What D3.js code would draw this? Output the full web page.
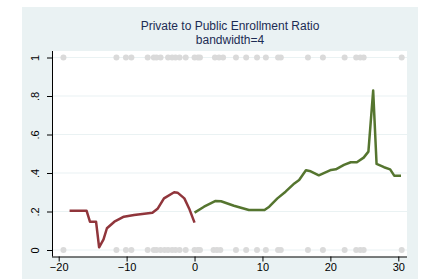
<!DOCTYPE html>
<html>
<head>
<meta charset="utf-8">
<script src="https://cdn.jsdelivr.net/npm/d3@7"></script>
<style>
  body { margin: 0; background: #fff; }
  svg { display: block; font-family: "Liberation Sans", Arial, sans-serif; }
</style>
</head>
<body>
<div id="chart"><svg width="430" height="279"></svg></div>
<script>
var titleLines = ['Private to Public Enrollment Ratio', 'bandwidth=4'];
var xTicks = [-20, -10, 0, 10, 20, 30];
var yTicks = [0, 0.2, 0.4, 0.6, 0.8, 1];
var yTickLabels = ['0', '.2', '.4', '.6', '.8', '1'];

// raw observations (binary outcome) drawn as grey dots
var dotsTop = [-19.3, -11.5, -10.1, -9.3, -6.9, -6.0, -5.6, -5.0, -3.9, -3.3, -2.8, -2.2, -1.3,
  0.0, 0.5, 0.8, 3.0, 3.6, 4.2, 6.1, 7.6, 9.2, 10.5, 12.3, 12.7, 16.7, 18.9, 22.1, 23.8, 24.4, 24.9, 30.5];
var dotsBottom = [-19.3, -11.5, -10.1, -9.3, -6.9, -6.0, -5.6, -5.0, -4.4, -3.9, -3.3, -2.8, -2.2, -1.3,
  0.0, 0.5, 0.8, 2.8, 3.3, 3.8, 6.1, 7.6, 9.2, 10.5, 12.3, 12.7, 16.7, 18.9, 22.1, 23.8, 24.4, 24.9, 30.5];

// local fit left of cutoff
var leftX = [-18.4, -15.9, -15.4, -14.5, -14.05, -13.4, -12.9, -11.8, -10.4, -8.9, -6.2, -5.4, -4.5, -3.0, -2.5, -1.5, -0.8, 0.0];
var leftY = [0.204, 0.204, 0.147, 0.147, 0.014, 0.055, 0.113, 0.147, 0.173, 0.182, 0.194, 0.216, 0.268, 0.300, 0.298, 0.268, 0.216, 0.142];

// local fit right of cutoff
var rightX = [0.0, 1.4, 3.1, 3.9, 5.8, 8.0, 10.3, 11.0, 12.2, 13.4, 14.7, 15.4, 16.4, 17.1, 18.3, 20.1, 20.8,
  22.0, 23.0, 23.9, 24.9, 25.6, 26.3, 26.8, 27.9, 28.8, 29.4, 30.4];
var rightY = [0.194, 0.225, 0.255, 0.253, 0.230, 0.208, 0.208, 0.225, 0.268, 0.303, 0.346, 0.364, 0.414, 0.409, 0.388,
  0.416, 0.419, 0.442, 0.456, 0.456, 0.480, 0.511, 0.828, 0.447, 0.430, 0.419, 0.386, 0.386];

var svg = d3.select('#chart svg');

var outer = { x: 22, y: 7, w: 396, h: 272 };
var plot = { left: 52, right: 407, top: 51, bottom: 256.5 };

var x = d3.scaleLinear().domain([-20, 30]).range([58.7, 398.3]);
var y = d3.scaleLinear().domain([0, 1]).range([250, 57.5]);

svg.append('rect')
  .attr('x', outer.x).attr('y', outer.y)
  .attr('width', outer.w).attr('height', outer.h)
  .attr('fill', '#eaf2f3')
;

svg.append('rect')
  .attr('x', plot.left).attr('y', plot.top)
  .attr('width', plot.right - plot.left).attr('height', plot.bottom - plot.top)
  .attr('fill', '#ffffff')
;

// gridlines
svg.append('g')
  .selectAll('line')
  .data(yTicks)
  .enter()
  .append('line')
  .attr('x1', plot.left).attr('x2', plot.right)
  .attr('y1', function(d) { return y(d); })
  .attr('y2', function(d) { return y(d); })
  .attr('stroke', '#eaf2f3')
  .attr('stroke-width', 1.2)
;

// title, two lines
svg.append('g')
  .selectAll('text')
  .data(titleLines)
  .enter()
  .append('text')
  .attr('x', 230)
  .attr('y', function(d, i) { return 30 + i * 13.8; })
  .attr('text-anchor', 'middle')
  .attr('font-size', '12px')
  .attr('fill', '#1c2c54')
  .text(function(d) { return d; })
;

// dots
var dots = dotsTop.map(function(v) { return [v, 1]; })
  .concat(dotsBottom.map(function(v) { return [v, 0]; }));

svg.append('g')
  .selectAll('circle')
  .data(dots)
  .enter()
  .append('circle')
  .attr('cx', function(d) { return x(d[0]); })
  .attr('cy', function(d) { return y(d[1]); })
  .attr('r', 3)
  .attr('fill', '#dadada')
;

var line = d3.line()
  .x(function(d) { return x(d[0]); })
  .y(function(d) { return y(d[1]); })
;

svg.append('path')
  .datum(d3.zip(leftX, leftY))
  .attr('d', line)
  .attr('fill', 'none')
  .attr('stroke', '#90353b')
  .attr('stroke-width', 2.5)
  .attr('stroke-linejoin', 'round')
;

svg.append('path')
  .datum(d3.zip(rightX, rightY))
  .attr('d', line)
  .attr('fill', 'none')
  .attr('stroke', '#55752f')
  .attr('stroke-width', 2.5)
  .attr('stroke-linejoin', 'round')
;

// axes
var xAxis = d3.axisBottom(x).tickValues(xTicks).tickSize(5).tickPadding(2);
var gx = svg.append('g')
  .attr('transform', 'translate(0,' + plot.bottom + ')')
  .call(xAxis)
;
gx.select('.domain').attr('d', 'M' + plot.left + ',0.5H' + plot.right).attr('stroke', '#000');
gx.selectAll('text').attr('font-size', '11px').attr('font-family', '"Liberation Sans", Arial, sans-serif').attr('fill', '#000');

var yAxis = d3.axisLeft(y).tickValues(yTicks)
  .tickFormat(function(d, i) { return yTickLabels[i]; })
  .tickSize(5).tickPadding(2);
var gy = svg.append('g')
  .attr('transform', 'translate(' + plot.left + ',0)')
  .call(yAxis)
;
gy.select('.domain').attr('d', 'M0.5,' + plot.top + 'V' + plot.bottom).attr('stroke', '#000');
gy.selectAll('text')
  .attr('font-size', '11px')
  .attr('font-family', '"Liberation Sans", Arial, sans-serif')
  .attr('fill', '#000')
  .attr('text-anchor', 'middle')
  .attr('dy', 0)
  .attr('transform', function() {
    return 'translate(-13,0) rotate(-90)';
  })
  .attr('x', 0)
;
</script>
</body>
</html>
